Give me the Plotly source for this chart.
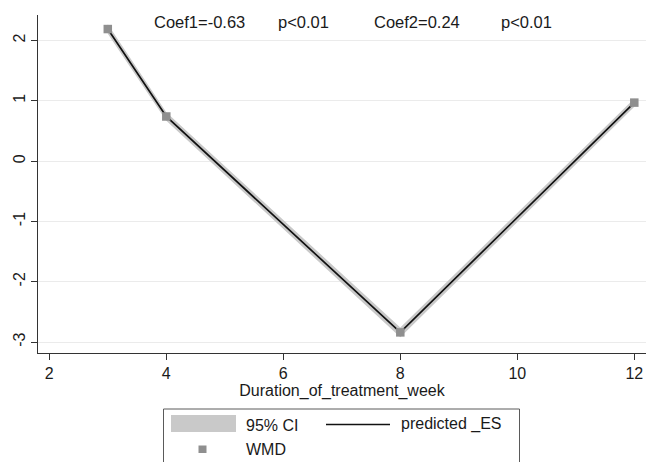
import plotly.graph_objects as go

# ---- data ----
weeks = [3, 4, 8, 12]
wmd = [2.19, 0.74, -2.84, 0.97]
predicted_es = [2.19, 0.74, -2.84, 0.97]
ci_lower = [2.11, 0.67, -2.92, 0.90]
ci_upper = [2.27, 0.81, -2.76, 1.04]
x_tick_vals = [2, 4, 6, 8, 10, 12]
y_tick_vals = [-3, -2, -1, 0, 1, 2]
y_tick_labels = ["-3", "-2", "-1", "0", "1", "2"]
coef_texts = ["Coef1=-0.63", "p<0.01", "Coef2=0.24", "p<0.01"]
coef_x = [3.76, 5.87, 7.51, 9.68]
coef_y = 2.315
legend_labels = ["95% CI", "predicted _ES", "WMD"]

# ---- geometry helpers (layout pixels) ----
W, H = 646, 462
ML, MR, MT, MB = 38, 0, 15, 109
PW, PH = W - ML - MR, H - MT - MB


def px(x):
    return (x - ML) / PW


def py(y):
    return (H - MB - y) / PH


FONT = "Liberation Sans, Arial, sans-serif"
TXT = "#1a1a1a"
CI_COL = "#c9c9c9"
MK_COL = "#8f8f8f"

fig = go.Figure()

# CI band
fig.add_trace(go.Scatter(
    x=weeks + weeks[::-1], y=ci_upper + ci_lower[::-1],
    fill="toself", fillcolor=CI_COL, line=dict(width=0, color=CI_COL),
    mode="lines", name=legend_labels[0], hoverinfo="skip", showlegend=False))
# predicted line
fig.add_trace(go.Scatter(
    x=weeks, y=predicted_es, mode="lines",
    line=dict(color="#111111", width=1.7),
    name=legend_labels[1], showlegend=False))
# WMD markers
fig.add_trace(go.Scatter(
    x=weeks, y=wmd, mode="markers",
    marker=dict(symbol="square", size=8.5, color=MK_COL, line=dict(width=0)),
    name=legend_labels[2], showlegend=False, cliponaxis=False))

annotations = []
for t, xv in zip(coef_texts, coef_x):
    annotations.append(dict(x=xv, y=coef_y, xref="x", yref="y", text=t,
                            showarrow=False, xanchor="left", yanchor="middle",
                            font=dict(family=FONT, size=16.5, color=TXT)))

# manual legend (Stata style box)
shapes = [
    dict(type="rect", xref="paper", yref="paper",
         x0=px(163.5), x1=px(519.5), y0=py(470), y1=py(409),
         line=dict(color="#5a5a5a", width=1), fillcolor="rgba(0,0,0,0)"),
    dict(type="rect", xref="paper", yref="paper",
         x0=px(171), x1=px(236), y0=py(432), y1=py(415),
         line=dict(width=0), fillcolor=CI_COL),
    dict(type="line", xref="paper", yref="paper",
         x0=px(326), x1=px(390), y0=py(424.5), y1=py(424.5),
         line=dict(color="#111111", width=1.4)),
    dict(type="rect", xref="paper", yref="paper",
         x0=px(198.5), x1=px(206.5), y0=py(453), y1=py(445.5),
         line=dict(width=0), fillcolor=MK_COL),
]
leg_pos = [(244, 425), (399, 424.5), (244, 449)]
for lab, (lx, ly) in zip(legend_labels, leg_pos):
    annotations.append(dict(x=px(lx), y=py(ly), xref="paper", yref="paper",
                            text=lab, showarrow=False, xanchor="left",
                            yanchor="middle",
                            font=dict(family=FONT, size=16, color=TXT)))

fig.update_layout(
    width=W, height=H,
    margin=dict(l=ML, r=MR, t=MT, b=MB, pad=0),
    paper_bgcolor="white", plot_bgcolor="white",
    font=dict(family=FONT, size=16, color=TXT),
    showlegend=False,
    annotations=annotations,
    shapes=shapes,
)
fig.update_xaxes(
    range=[1.807, 12.2], tickvals=x_tick_vals,
    showgrid=False, zeroline=False,
    showline=True, linecolor="#333333", linewidth=1.2,
    ticks="outside", ticklen=6, tickcolor="#333333", tickwidth=1,
    tickfont=dict(family=FONT, size=16, color=TXT),
    title=dict(text="Duration_of_treatment_week", standoff=1,
               font=dict(family=FONT, size=16, color=TXT)),
)
fig.update_yaxes(
    range=[-3.182, 2.423], tickvals=y_tick_vals, ticktext=y_tick_labels,
    tickangle=-90,
    showgrid=True, gridcolor="#ebebeb", gridwidth=1.2, zeroline=False,
    showline=True, linecolor="#333333", linewidth=1.2,
    ticks="outside", ticklen=6, tickcolor="#333333", tickwidth=1,
    tickfont=dict(family=FONT, size=16, color=TXT),
)

fig.write_html(
    "out.html",
    config={"displayModeBar": False},
    post_script="document.body.style.margin='0px';"
                "document.body.style.overflow='hidden';",
)
